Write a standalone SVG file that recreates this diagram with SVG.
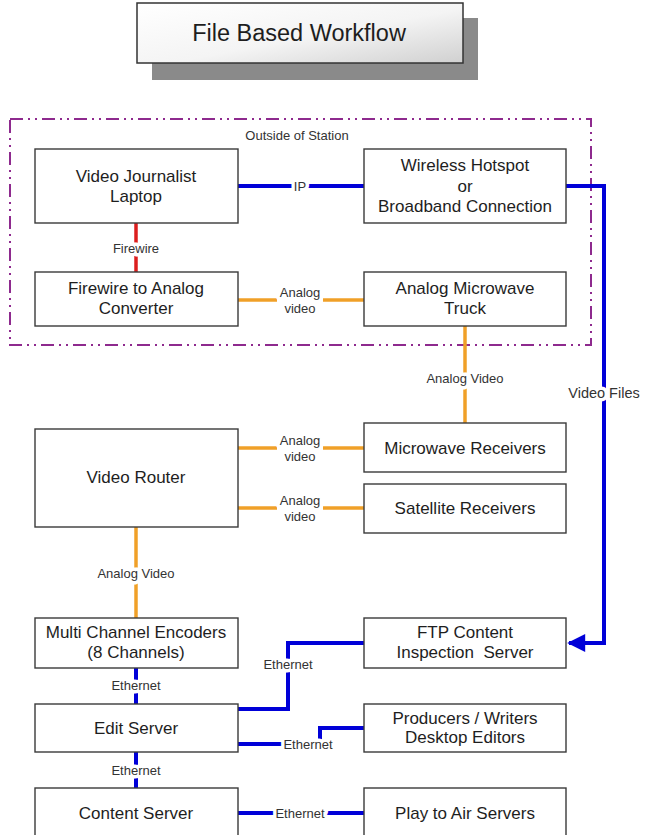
<svg xmlns="http://www.w3.org/2000/svg" width="647" height="835" viewBox="0 0 647 835">
<defs>
<linearGradient id="tg" x1="0" y1="0" x2="1" y2="1">
<stop offset="0" stop-color="#ffffff"/>
<stop offset="0.55" stop-color="#f4f4f4"/>
<stop offset="1" stop-color="#d0d0d0"/>
</linearGradient>
<marker id="arr" viewBox="0 0 10 10" refX="9" refY="5" markerWidth="6.5" markerHeight="4.5" markerUnits="strokeWidth" orient="auto">
<path d="M0,0 L10,5 L0,10 z" fill="#0000d8"/>
</marker>
<style>
.box{fill:#fff;stroke:#3a3a3a;stroke-width:1.4}
.t{font-family:"Liberation Sans",Arial,sans-serif;font-size:17px;fill:#1e1e1e;text-anchor:middle;dominant-baseline:central}
.l{font-family:"Liberation Sans",Arial,sans-serif;font-size:13px;fill:#333;text-anchor:middle;dominant-baseline:central;stroke:#fff;stroke-width:7;stroke-linejoin:round;paint-order:stroke}
.bg{fill:#fff}
.blue{fill:none;stroke:#0000d8;stroke-width:4}
.orange{fill:none;stroke:#f0a028;stroke-width:3.5}
.red{fill:none;stroke:#dc1e1e;stroke-width:3.5}
</style>
</defs>
<rect width="647" height="835" fill="#fff"/>

<g id="title">
<rect x="152" y="18" width="326" height="62" fill="#8a8a8a"/>
<rect x="137" y="3" width="326" height="60" fill="url(#tg)" stroke="#333" stroke-width="1.5"/>
<text x="299" y="33" class="t" style="font-size:23.5px">File Based Workflow</text>
</g>

<g id="outside-station">
<rect x="10" y="119" width="581" height="226" fill="none" stroke="#8e2a8e" stroke-width="2" stroke-dasharray="13 5 2 5 2 5"/>
<text x="297" y="135" class="t" style="font-size:13px;fill:#333">Outside of Station</text>
</g>

<g id="connectors">
<path class="blue" d="M238,186 H364"/>
<path class="blue" d="M566,186 H604 V643 H569" marker-end="url(#arr)"/>
<path class="red" d="M136,223 V272"/>
<path class="orange" d="M238,300 H364"/>
<path class="orange" d="M465,326 V423"/>
<path class="orange" d="M238,448 H364"/>
<path class="orange" d="M238,508 H364"/>
<path class="orange" d="M136,527 V618"/>
<path class="blue" d="M136,668 V704"/>
<path class="blue" d="M364,643 H288 V709 H238"/>
<path class="blue" d="M364,728 H320 V744 H238"/>
<path class="blue" d="M136,752 V788"/>
<path class="blue" d="M238,813 H364"/>
<rect class="bg" x="277" y="284" width="46" height="32"/>
<rect class="bg" x="277" y="432" width="46" height="32"/>
<rect class="bg" x="277" y="492" width="46" height="32"/>
<text x="300" y="186" class="l">IP</text>
<text x="136" y="248" class="l">Firewire</text>
<text x="300" y="292" class="l">Analog</text>
<text x="300" y="308" class="l">video</text>
<text x="465" y="378" class="l">Analog Video</text>
<text x="604" y="393" class="l" style="font-size:14.5px">Video Files</text>
<text x="300" y="440" class="l">Analog</text>
<text x="300" y="456" class="l">video</text>
<text x="300" y="500" class="l">Analog</text>
<text x="300" y="516" class="l">video</text>
<text x="136" y="573" class="l">Analog Video</text>
<text x="288" y="664" class="l">Ethernet</text>
<text x="136" y="685" class="l">Ethernet</text>
<text x="308" y="744" class="l">Ethernet</text>
<text x="136" y="770" class="l">Ethernet</text>
<text x="300" y="813" class="l">Ethernet</text>
</g>

<g id="laptop">
<rect class="box" x="35" y="149" width="203" height="74"/>
<text class="t" x="136" y="176">Video Journalist</text>
<text class="t" x="136" y="196">Laptop</text>
</g>
<g id="wireless">
<rect class="box" x="364" y="149" width="202" height="74"/>
<text class="t" x="465" y="165">Wireless Hotspot</text>
<text class="t" x="465" y="186">or</text>
<text class="t" x="465" y="206">Broadband Connection</text>
</g>
<g id="firewire-converter">
<rect class="box" x="35" y="272" width="203" height="54"/>
<text class="t" x="136" y="288">Firewire to Analog</text>
<text class="t" x="136" y="308">Converter</text>
</g>
<g id="microwave-truck">
<rect class="box" x="364" y="272" width="202" height="54"/>
<text class="t" x="465" y="288">Analog Microwave</text>
<text class="t" x="465" y="308">Truck</text>
</g>
<g id="video-router">
<rect class="box" x="35" y="429" width="203" height="98"/>
<text class="t" x="136" y="477">Video Router</text>
</g>
<g id="microwave-receivers">
<rect class="box" x="364" y="423" width="202" height="49"/>
<text class="t" x="465" y="448">Microwave Receivers</text>
</g>
<g id="satellite-receivers">
<rect class="box" x="364" y="484" width="202" height="49"/>
<text class="t" x="465" y="508">Satellite Receivers</text>
</g>
<g id="encoders">
<rect class="box" x="35" y="618" width="203" height="50"/>
<text class="t" x="136" y="632">Multi Channel Encoders</text>
<text class="t" x="136" y="652">(8 Channels)</text>
</g>
<g id="ftp-server">
<rect class="box" x="364" y="618" width="202" height="50"/>
<text class="t" x="465" y="632">FTP Content</text>
<text class="t" x="465" y="652" xml:space="preserve">Inspection  Server</text>
</g>
<g id="edit-server">
<rect class="box" x="35" y="704" width="203" height="48"/>
<text class="t" x="136" y="728">Edit Server</text>
</g>
<g id="producers">
<rect class="box" x="364" y="704" width="202" height="48"/>
<text class="t" x="465" y="718">Producers / Writers</text>
<text class="t" x="465" y="737">Desktop Editors</text>
</g>
<g id="content-server">
<rect class="box" x="35" y="788" width="203" height="60"/>
<text class="t" x="136" y="813">Content Server</text>
</g>
<g id="play-to-air">
<rect class="box" x="364" y="788" width="202" height="60"/>
<text class="t" x="465" y="813">Play to Air Servers</text>
</g>
</svg>
